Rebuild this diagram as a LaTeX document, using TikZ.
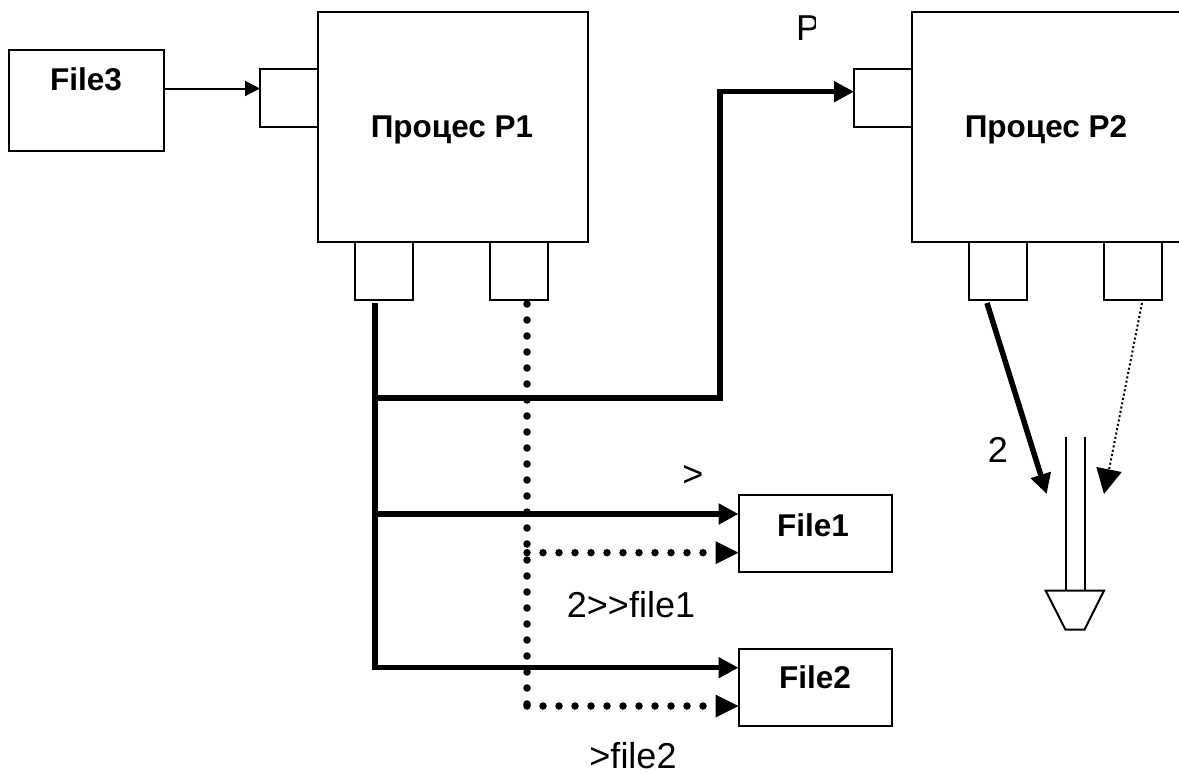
\documentclass[tikz,border=0pt]{standalone}
\usepackage{fontspec}
\setmainfont{Liberation Sans}[Ligatures=NoCommon]
\usetikzlibrary{arrows.meta,calc}
\tikzset{
  box/.style={draw=black,line width=2pt,fill=white,inner sep=0pt,outer sep=0pt,minimum width=#1},
  boldtext/.style={inner sep=0pt,anchor=base,font=\fontsize{31.5}{36}\selectfont\bfseries},
  plaintext/.style={inner sep=0pt,anchor=base,font=\fontsize{36}{40}\selectfont},
  thinarrow/.style={line width=2pt,-{Triangle[length=15pt,width=15pt]}},
  thickline/.style={line width=5.5pt},
  thickarrow/.style={line width=5.5pt,-{Triangle[length=20pt,width=20pt]}},
  dotline/.style={line width=7.5pt,line cap=round,dash pattern=on 0pt off 16pt},
  dothead/.style={fill=black,draw=none},
  finedots/.style={line width=2pt,dash pattern=on 2pt off 2.4pt},
  thin line/.style={line width=2pt,line join=miter}
}
\begin{document}
\begin{tikzpicture}[x=1pt,y=-1pt]
\useasboundingbox (0,0) rectangle (1179,772);
% boxes
\node[box=155.5pt,minimum height=101pt] (f3) at (86.3,100.5) {};
\node[box=58pt,minimum height=58pt] (in1) at (289,98) {};
\node[box=270.5pt,minimum height=230pt] (p1) at (452.8,126.7) {};
\node[box=58pt,minimum height=58pt] (o11) at (384,271) {};
\node[box=58pt,minimum height=58pt] (o12) at (518.5,271) {};
\node[box=58pt,minimum height=58pt] (in2) at (883,98) {};
\node[box=290pt,minimum height=230pt] (p2) at (1056.7,126.7) {};
\node[box=58pt,minimum height=58pt] (o21) at (998,271) {};
\node[box=58pt,minimum height=58pt] (o22) at (1133,271) {};
\node[box=153pt,minimum height=77pt] (f1) at (815,533.2) {};
\node[box=153pt,minimum height=77pt] (f2) at (815,687) {};
% box texts
\node[boldtext] (tf3) at (86,90) {File3};
\node[boldtext] (tp1) at (452,137) {Процес P1};
\node[boldtext] (tp2) at (1046,137) {Процес P2};
\node[boldtext] (tf1) at (813,536) {File1};
\node[boldtext] (tf2) at (815,688) {File2};
% helper coordinates
\coordinate (ya) at (0,88.5);
\coordinate (s1) at (375,303);
\coordinate (s2) at (527,304);
\coordinate (t1) at (375,398);
\coordinate (t2) at (720,398);
\coordinate (t3) at (720,91.7);
\coordinate (j1) at (375,514);
\coordinate (j2) at (372.5,667.7);
\coordinate (j3) at (375,670);
\coordinate (d1) at (527,552.7);
\coordinate (d2) at (527,706);
% connectors
\draw[thinarrow] (f3.east |- ya) -- (in1.west |- ya);
\draw[thickline] (s1) -- (j3);
\draw[thickarrow,line join=miter] (t1) -- (t2) -- (t3) -- (in2.west |- t3);
\draw[thickarrow] (j1) -- (f1.west |- j1);
\draw[thickarrow] (j2) -- (f2.west |- j2);
\draw[dotline] (s2) -- (d2);
\draw[dotline] (d1) -- ($(f1.west |- d1)+(-23,0)$);
\draw[dotline] (d2) -- ($(f2.west |- d2)+(-23,0)$);
\fill[dothead] (f1.west |- d1) -- ++(-23,-11.5) -- ++(0,23) -- cycle;
\fill[dothead] (f2.west |- d2) -- ++(-23,-11.5) -- ++(0,23) -- cycle;
% pipe symbol
\coordinate (tl) at (1065.5,436.7);
\coordinate (tr) at (1084.5,436.7);
\coordinate (bl) at (1065.5,590.7);
\coordinate (br) at (1084.5,590.7);
\draw[thin line] (tl) -- (bl);
\draw[thin line] (tr) -- (br);
\draw[thin line] (1045.7,590.7) -- (1104,590.7) -- (1084.5,629.7) -- (1065.5,629.7) -- cycle;
% P2 outputs
\coordinate (h1) at (987,303);
\coordinate (h2) at (1046.7,494);
\coordinate (h3) at (1142,303);
\coordinate (h4) at (1108,475);
\draw[thickarrow] (h1) -- (h2);
\draw[finedots] (h3) -- (h4);
\fill[dothead] (1104,494) -- (1096.3,467) -- (1121.7,472) -- cycle;
% labels
\begin{scope}
\clip (790,0) rectangle (815.5,60);
\node[plaintext,anchor=base west] (lp) at (796,40) {P};
\end{scope}
\node[plaintext] (l2) at (998,462.7) {2};
\node[plaintext] (lg) at (693,486) {>};
\node[plaintext] (l21) at (631,617.7) {2{>}{>}file1};
\node[plaintext] (lf2) at (633,768) {>file2};
\end{tikzpicture}
\end{document}
